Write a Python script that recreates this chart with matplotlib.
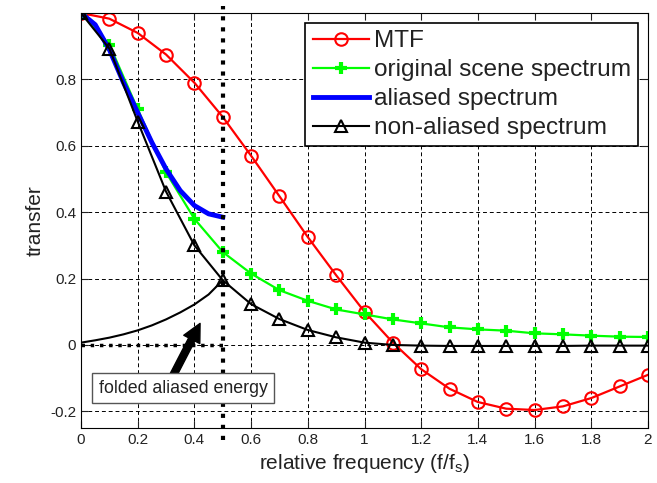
import numpy as np
import matplotlib
matplotlib.use("Agg")
from matplotlib import pyplot as plt

plt.rcParams["font.family"] = ["Liberation Sans", "DejaVu Sans"]

freq = [0.0, 0.1, 0.2, 0.3, 0.4, 0.5, 0.6, 0.7, 0.8, 0.9, 1.0,
        1.1, 1.2, 1.3, 1.4, 1.5, 1.6, 1.7, 1.8, 1.9, 2.0]
mtf = [1.0, 0.983, 0.94, 0.875, 0.79, 0.687, 0.57, 0.448, 0.325, 0.21, 0.10,
       0.007, -0.073, -0.132, -0.172, -0.192, -0.196, -0.185, -0.16, -0.125, -0.09]
scene = [1.0, 0.905, 0.71, 0.52, 0.38, 0.28, 0.215, 0.165, 0.133, 0.107, 0.092,
         0.077, 0.065, 0.053, 0.047, 0.043, 0.035, 0.032, 0.028, 0.025, 0.024]
non_aliased = [1.0, 0.893, 0.673, 0.462, 0.30, 0.195, 0.123, 0.078, 0.045, 0.023, 0.007,
               0.0, -0.002, -0.003, -0.003, -0.003, -0.003, -0.003, -0.002, -0.002, -0.002]

alias_freq = [0.0, 0.05, 0.1, 0.15, 0.2, 0.25, 0.3, 0.35, 0.4, 0.45, 0.5]
aliased = [1.0, 0.965, 0.89, 0.79, 0.70, 0.61, 0.53, 0.465, 0.42, 0.395, 0.385]

fold_freq = [0.0, 0.05, 0.1, 0.15, 0.2, 0.25, 0.3, 0.35, 0.4, 0.45, 0.5]
folded = [0.007, 0.014, 0.022, 0.032, 0.044, 0.059, 0.077, 0.098, 0.122, 0.152, 0.195]

fig = plt.figure(figsize=(6.57, 4.83), dpi=100)
ax = fig.add_axes([0.1233, 0.114, 0.863, 0.859])

ax.plot(freq, mtf, color="red", lw=1.6, marker="o", ms=9, mfc="none", mew=1.5,
        label="MTF")
ax.plot(freq, scene, color=(0, 1, 0), lw=1.6, marker="+", ms=8, mew=3,
        label="original scene spectrum")
ax.plot(alias_freq, aliased, color="blue", lw=3.5, label="aliased spectrum")
ax.plot(freq, non_aliased, color="black", lw=1.5, marker="^", ms=9, mfc="none",
        mew=1.5, label="non-aliased spectrum")
ax.plot(fold_freq, folded, color="black", lw=1.5)

# Nyquist marker lines
ax.plot([0.5, 0.5], [-0.285, 1.02], color="black", ls=":", lw=3, clip_on=False)
ax.plot([0, 0.5], [0, 0], color="black", ls=":", lw=2.5)

ax.annotate("", xy=(0.42, 0.065), xytext=(0.32, -0.10),
            arrowprops=dict(facecolor="black", edgecolor="black", width=5,
                            headwidth=13, headlength=13))
ax.text(0.36, -0.13, "folded aliased energy", ha="center", va="center", fontsize=12.8,
        color="#222222",
        bbox=dict(boxstyle="square,pad=0.35", facecolor="white", edgecolor="#555555", lw=1))

ax.set_xlim(0, 2)
ax.set_ylim(-0.25, 1.0)
xt = [0, 0.2, 0.4, 0.6, 0.8, 1, 1.2, 1.4, 1.6, 1.8, 2]
ax.set_xticks(xt)
ax.set_xticklabels(["0", "0.2", "0.4", "0.6", "0.8", "1", "1.2", "1.4", "1.6", "1.8", "2"])
yt = [-0.2, 0, 0.2, 0.4, 0.6, 0.8]
ax.set_yticks(yt)
ax.set_yticklabels(["-0.2", "0", "0.2", "0.4", "0.6", "0.8"])
ax.tick_params(direction="in", top=True, right=True, labelsize=11, length=5, colors="#222222")
ax.grid(True, color="black", ls=(0, (4, 3)), lw=0.7)

ax.set_xlabel("relative frequency (f/f$_\\mathregular{s}$)", fontsize=15, color="#222222")
ax.set_ylabel("transfer", fontsize=15, color="#222222")

leg = ax.legend(loc="upper right", fontsize=17.6, frameon=True, fancybox=False,
                edgecolor="black", framealpha=1, labelspacing=0.28, handlelength=2.3,
                handletextpad=0.2, borderpad=0.3, borderaxespad=0.4)
leg.get_frame().set_linewidth(1.2)
for t in leg.get_texts():
    t.set_color("#222222")

fig.savefig("out.png", dpi=100)
